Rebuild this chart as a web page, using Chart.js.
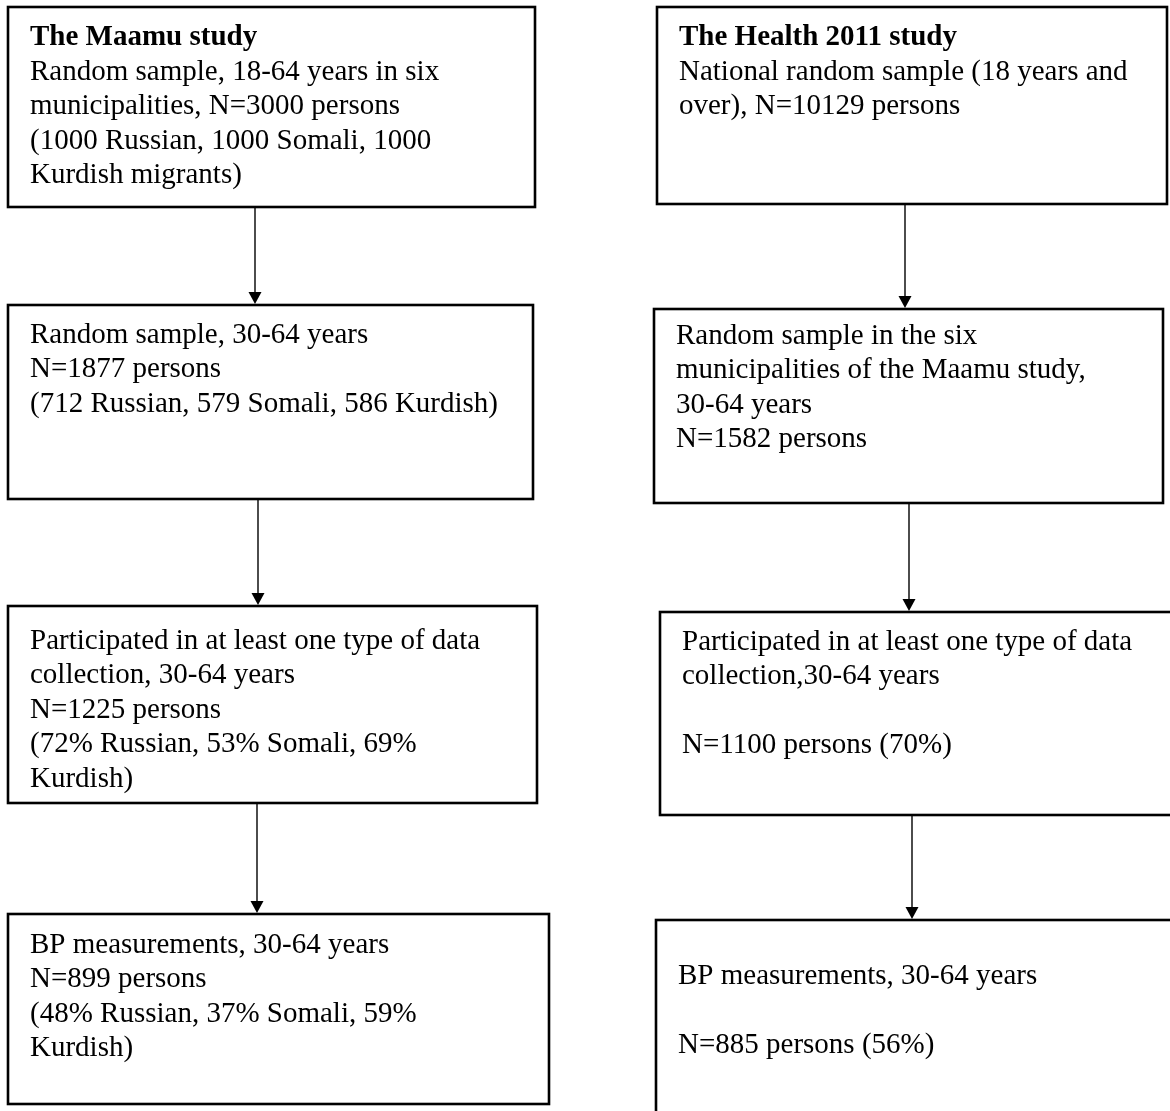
<!DOCTYPE html>
<html>
<head>
<meta charset="utf-8">
<script src="https://cdn.jsdelivr.net/npm/chart.js@4/dist/chart.umd.min.js"></script>
<style>
  body { margin:0; background:#fff; }
  #wrap { width:1170px; height:1111px; }
</style>
</head>
<body>
<div id="wrap"><canvas id="flow" width="1170" height="1111"></canvas></div>
<script>
// study names
const studyTitles = ["The Maamu study", "The Health 2011 study"];

// box texts, one array of lines per step ("" = empty line)
const maamuSteps = [
    ["Random sample, 18-64 years in six", "municipalities, N=3000 persons", "(1000 Russian, 1000 Somali, 1000", "Kurdish migrants)"],
    ["Random sample, 30-64 years", "N=1877 persons", "(712 Russian, 579 Somali, 586 Kurdish)"],
    ["Participated in at least one type of data", "collection, 30-64 years", "N=1225 persons", "(72% Russian, 53% Somali, 69%", "Kurdish)"],
    ["BP measurements, 30-64 years", "N=899 persons", "(48% Russian, 37% Somali, 59%", "Kurdish)"]
];
const healthSteps = [
    ["National random sample (18 years and", "over), N=10129 persons"],
    ["Random sample in the six", "municipalities of the Maamu study,", "30-64 years", "N=1582 persons"],
    ["Participated in at least one type of data", "collection,30-64 years", "", "N=1100 persons (70%)"],
    ["BP measurements, 30-64 years", "", "N=885 persons (56%)"]
];

// layout of the boxes in page units: [x0, y0, x1, y1, firstLineY]
const maamuBoxes = [
    [8, 7, 535, 207, 37.5],
    [8, 305, 533, 499, 335],
    [8, 606, 537, 803, 641],
    [8, 914, 549, 1104, 945]
];
const healthBoxes = [
    [657, 7, 1167, 204, 37.5],
    [654, 309, 1163, 503, 336],
    [660, 612, 1172, 815, 642],
    [656, 920, 1180, 1130, 976]
];
// arrow x positions between consecutive boxes
const maamuArrowX = [255, 258, 257];
const healthArrowX = [905, 909, 912];

const lineH = 34.5;
const fontSize = 29;

function drawColumn(chart, title, steps, boxes, arrowX) {
    let ctx = chart.ctx;
    let sx = chart.scales.x, sy = chart.scales.y;
    ctx.save();
    ctx.strokeStyle = "#000";
    ctx.fillStyle = "#000";
    for (let i = 0; i < steps.length; i++) {
        let b = boxes[i];
        let x0 = sx.getPixelForValue(b[0]), x1 = sx.getPixelForValue(b[2]);
        let y0 = sy.getPixelForValue(b[1]), y1 = sy.getPixelForValue(b[3]);
        ctx.lineWidth = 2.6;
        ctx.strokeRect(x0, y0, x1 - x0, y1 - y0);

        let lines = steps[i].slice();
        let bold = 0;
        if (i == 0) { lines.unshift(title); bold = 1; }
        ctx.textBaseline = "middle";
        ctx.textAlign = "left";
        for (let j = 0; j < lines.length; j++) {
            ctx.font = (j < bold ? "bold " : "") + fontSize + "px 'Liberation Serif', 'Times New Roman', serif";
            ctx.fillText(lines[j], x0 + 22, sy.getPixelForValue(b[4] + j * lineH));
        }

        if (i < steps.length - 1) {
            let ax = sx.getPixelForValue(arrowX[i]);
            let ya = sy.getPixelForValue(b[3]);
            let yb = sy.getPixelForValue(boxes[i + 1][1]);
            ctx.lineWidth = 1.4;
            ctx.beginPath();
            ctx.moveTo(ax, ya);
            ctx.lineTo(ax, yb - 12);
            ctx.stroke();
            ctx.beginPath();
            ctx.moveTo(ax - 6.5, yb - 13);
            ctx.lineTo(ax + 6.5, yb - 13);
            ctx.lineTo(ax, yb - 1);
            ctx.closePath();
            ctx.fill();
        }
    }
    ctx.restore();
}

const flowPlugin = {
    id: "flow",
    afterDatasetsDraw(chart) {
        drawColumn(chart, studyTitles[0], maamuSteps, maamuBoxes, maamuArrowX);
        drawColumn(chart, studyTitles[1], healthSteps, healthBoxes, healthArrowX);
    }
};

new Chart(document.getElementById("flow"), {
    type: "scatter",
    data: { datasets: [{ data: [] }] },
    options: {
        responsive: false,
        animation: false,
        layout: { padding: 0 },
        plugins: { legend: { display: false }, tooltip: { enabled: false } },
        scales: {
            x: { type: "linear", min: 0, max: 1170, display: false },
            y: { type: "linear", min: 0, max: 1111, reverse: true, display: false }
        }
    },
    plugins: [flowPlugin]
});
</script>
</body>
</html>
